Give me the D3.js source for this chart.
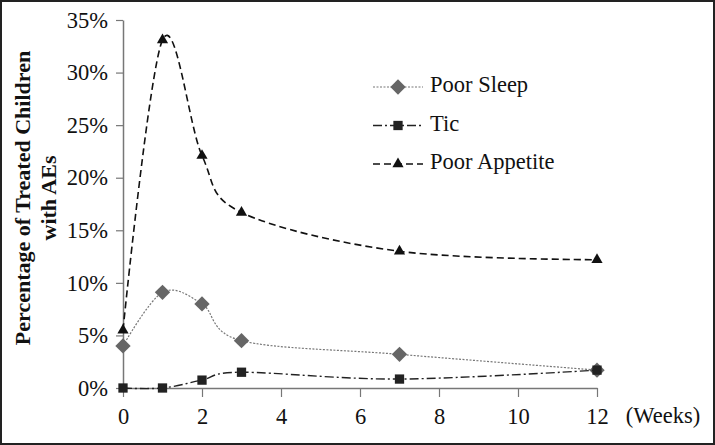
<!DOCTYPE html>
<html>
<head>
<meta charset="utf-8">
<script src="https://cdn.jsdelivr.net/npm/d3@7"></script>
<style>
  body { margin: 0; background: #fff; }
  svg text { font-family: 'Liberation Serif', 'DejaVu Serif', serif; }
</style>
</head>
<body>
<script>
// data
const weeks = [0, 1, 2, 3, 7, 12]
const poorSleep = [4.0, 9.1, 8.0, 4.5, 3.2, 1.7]
const tic = [0, 0, 0.75, 1.5, 0.85, 1.7]
const poorAppetite = [5.5, 33.1, 22.1, 16.7, 13.0, 12.2]
const xTicks = [0, 2, 4, 6, 8, 10, 12]
const yTicks = [0, 5, 10, 15, 20, 25, 30, 35]

const w = 715
const h = 445
const serif = "'Liberation Serif', 'DejaVu Serif', serif"

const svg = d3.select('body')
    .append('svg')
    .attr('width', w)
    .attr('height', h)
    .attr('font-family', serif)

// frame around the whole picture
svg.append('rect')
    .attr('x', 1).attr('y', 1)
    .attr('width', w - 2).attr('height', h - 2)
    .attr('fill', '#fff')
    .attr('stroke', '#222')
    .attr('stroke-width', 2)

const x = d3.scaleLinear().domain([0, 12]).range([123, 597])
const y = d3.scaleLinear().domain([0, 35]).range([388, 20])

// axes
const xAxis = svg.append('g')
    .attr('transform', `translate(0,${y(0)})`)
    .call(d3.axisBottom(x).tickValues(xTicks).tickSize(9).tickPadding(11).tickSizeOuter(0))
const yAxis = svg.append('g')
    .attr('transform', `translate(${x(0)},0)`)
    .call(d3.axisLeft(y).tickValues(yTicks).tickSize(7).tickPadding(8).tickSizeOuter(0).tickFormat(d => d + '%'))

for (const a of [xAxis, yAxis]) {
    a.attr('font-family', serif).attr('font-size', 22.5)
    a.select('.domain').attr('stroke', '#777').attr('stroke-width', 1.5)
    a.selectAll('.tick line').attr('stroke', '#777').attr('stroke-width', 1.2)
    a.selectAll('.tick text').attr('fill', '#111')
}

svg.append('text')
    .attr('x', 663).attr('y', 418)
    .attr('text-anchor', 'middle')
    .attr('dominant-baseline', 'middle')
    .attr('font-size', 22.5)
    .attr('fill', '#111')
    .text('(Weeks)')

// y label
const ylab = svg.append('text')
    .attr('transform', 'translate(30,198) rotate(-90)')
    .attr('text-anchor', 'middle')
    .attr('font-size', 22)
    .attr('font-weight', 'bold')
    .attr('fill', '#111')
ylab.append('tspan').attr('x', 0).attr('dy', 0).text('Percentage of Treated Children')
ylab.append('tspan').attr('x', 0).attr('dy', 26).text('with AEs')

const series = [
    { name: 'Poor Sleep', values: poorSleep, stroke: '#777', dash: '2,1.5', width: 1.2, marker: 'diamond', fill: '#666' },
    { name: 'Tic', values: tic, stroke: '#222', dash: '9,3,2,3', width: 1.4, marker: 'square', fill: '#222' },
    { name: 'Poor Appetite', values: poorAppetite, stroke: '#111', dash: '7,4', width: 1.6, marker: 'triangle', fill: '#111' }
]

const symbols = {
    diamond: d3.symbol().type(d3.symbolDiamond2).size(150),
    square: d3.symbol().type(d3.symbolSquare2).size(110),
    triangle: d3.symbol().type(d3.symbolTriangle2).size(90)
}

const line = d3.line()
    .x(d => x(d[0]))
    .y(d => y(d[1]))
    .curve(d3.curveCardinal.tension(0))

for (const s of series) {
    const pts = weeks.map((wk, i) => [wk, s.values[i]])
    svg.append('path')
        .datum(pts)
        .attr('d', line)
        .attr('fill', 'none')
        .attr('stroke', s.stroke)
        .attr('stroke-width', s.width)
        .attr('stroke-dasharray', s.dash)
    svg.selectAll(null)
        .data(pts)
        .enter()
        .append('path')
        .attr('d', symbols[s.marker])
        .attr('transform', d => `translate(${x(d[0])},${y(d[1])})`)
        .attr('fill', s.fill)
}

// legend
const legend = svg.append('g').attr('transform', 'translate(373,87)')
series.forEach((s, i) => {
    const g = legend.append('g').attr('transform', `translate(0,${i * 38.5})`)
    g.append('line')
        .attr('x1', 0).attr('x2', 50)
        .attr('stroke', s.stroke)
        .attr('stroke-width', s.width)
        .attr('stroke-dasharray', s.dash)
    g.append('path')
        .attr('d', symbols[s.marker])
        .attr('transform', 'translate(25,0)')
        .attr('fill', s.fill)
    g.append('text')
        .attr('x', 57).attr('y', 0)
        .attr('dominant-baseline', 'middle')
        .attr('font-size', 22.5)
        .attr('fill', '#111')
        .text(s.name)
})
</script>
</body>
</html>
